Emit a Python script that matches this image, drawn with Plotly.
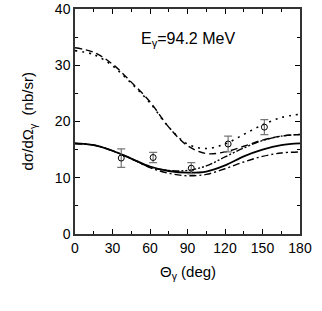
import plotly.graph_objects as go

theta = [0, 15, 30, 45, 60, 75, 90, 105, 120, 135, 150, 165, 180]
solid = [16.1, 15.8, 14.8, 13.4, 12.0, 11.2, 10.9, 11.1, 12.2, 13.8, 15.0, 15.8, 16.1]
dashdot = [16.1, 15.8, 14.8, 13.4, 11.8, 10.8, 10.35, 10.6, 11.6, 12.8, 13.8, 14.4, 14.6]
dashdotdot = [16.1, 15.8, 14.8, 13.4, 11.9, 11.3, 11.3, 12.1, 13.7, 15.3, 16.6, 17.4, 17.7]
dashed = [33.1, 32.3, 30.2, 27.0, 23.5, 19.0, 15.7, 14.3, 14.6, 15.6, 16.7, 17.4, 17.7]
dotted = [32.6, 31.9, 29.9, 26.8, 23.3, 19.0, 16.0, 15.2, 16.0, 17.7, 19.4, 20.7, 21.3]

data_x = [37, 62.5, 93, 122.5, 151.5]
data_y = [13.5, 13.6, 11.7, 16.0, 19.0]
data_err = [1.65, 0.9, 1.0, 1.4, 1.35]

x_title = "Θ<sub>γ</sub> (deg)"
y_title = "dσ/dΩ<sub>γ</sub>  (nb/sr)"
label = "E<sub>γ</sub>=94.2 MeV"

fig = go.Figure()

curves = [
    (solid, "solid", 1.8),
    (dashdot, "7px,3px,2px,3px", 1.4),
    (dashdotdot, "7px,2px,2px,2px,2px,2px", 1.4),
    (dashed, "7px,4px", 1.4),
    (dotted, "2px,5px", 1.6),
]
for ys, dash, w in curves:
    fig.add_trace(go.Scatter(x=theta, y=ys, mode="lines",
                             line=dict(color="black", width=w, dash=dash, shape="spline", smoothing=1.0),
                             showlegend=False, hoverinfo="skip"))

fig.add_trace(go.Scatter(x=data_x, y=data_y, mode="markers",
                         marker=dict(symbol="circle-open", size=6, color="black", line=dict(width=1)),
                         error_y=dict(type="data", array=data_err, color="#777", thickness=1.2, width=4),
                         showlegend=False))

fig.add_annotation(x=90, y=34.5, text=label, showarrow=False,
                   font=dict(size=16, color="black", family="Liberation Sans"))

fig.add_annotation(xref="paper", yref="paper", x=0.5, y=-0.172, text=x_title, showarrow=False,
                   xanchor="center", yanchor="middle",
                   font=dict(size=15, color="black", family="Liberation Sans"))
fig.add_annotation(xref="paper", yref="paper", x=-0.205, y=0.5, text=y_title, showarrow=False,
                   textangle=-90, xanchor="center", yanchor="middle",
                   font=dict(size=15, color="black", family="Liberation Sans"))

axis_common = dict(showgrid=False, zeroline=False, showline=True, linecolor="#333", linewidth=1.5,
                   mirror="ticks", ticks="inside", ticklen=5, tickcolor="black", tickwidth=1,
                   automargin=False,
                   tickfont=dict(size=14, color="black", family="Liberation Sans"))

fig.update_xaxes(range=[0, 180], tickvals=[0, 30, 60, 90, 120, 150, 180],
                 minor=dict(ticks="inside", ticklen=3, dtick=15, tickcolor="black"),
                 **axis_common)
fig.update_yaxes(range=[0, 40], tickvals=[0, 10, 20, 30, 40],
                 minor=dict(ticks="inside", ticklen=3, dtick=5, tickcolor="black"),
                 **axis_common)

fig.update_layout(width=322, height=311, margin=dict(l=75, r=22, t=9, b=77),
                  plot_bgcolor="white", paper_bgcolor="white")

fig.write_html("out.html", config={"displayModeBar": False},
               post_script="document.body.style.margin='0';document.body.style.overflow='hidden';")
